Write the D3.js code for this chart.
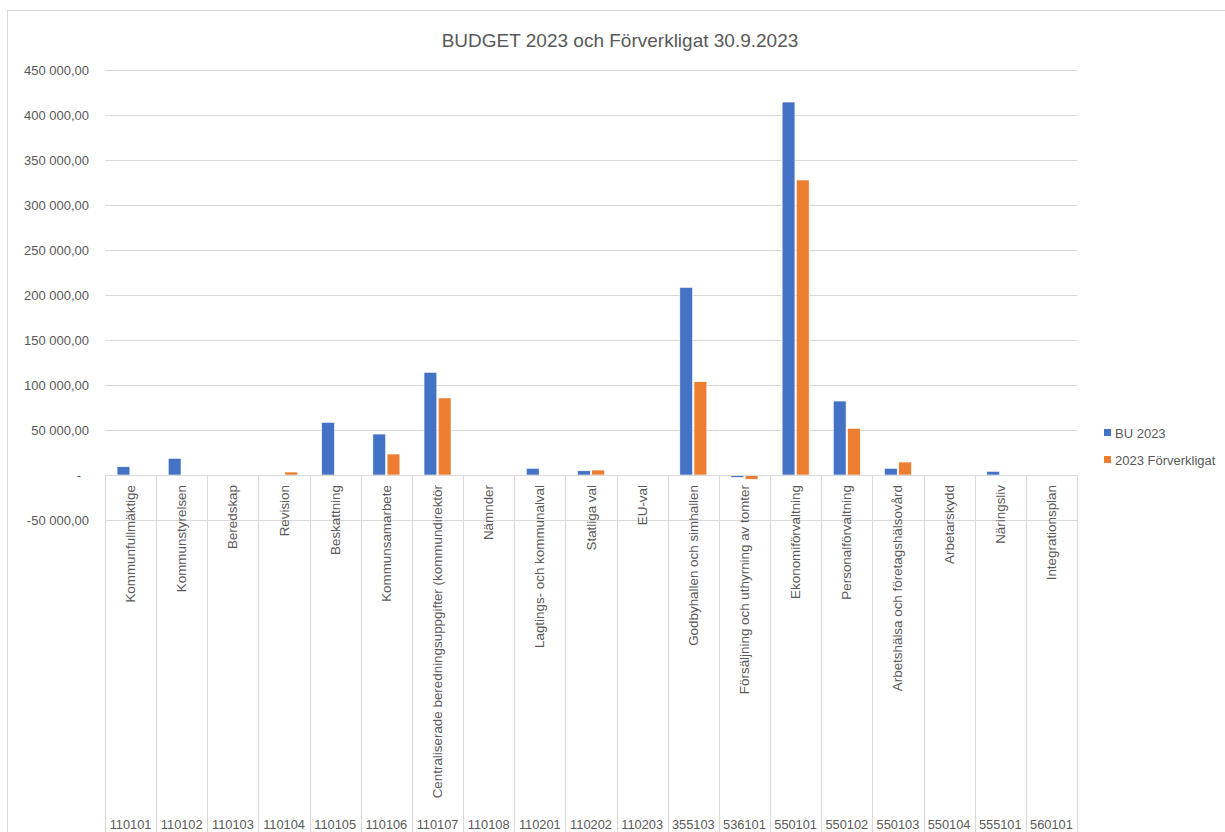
<!DOCTYPE html>
<html>
<head>
<meta charset="utf-8">
<script src="https://cdn.jsdelivr.net/npm/d3@7"></script>
<style>
  html, body { margin: 0; padding: 0; background: #fff; }
  svg { display: block; }
  text { font-family: "Liberation Sans", "DejaVu Sans", sans-serif; fill: #595959; }
</style>
</head>
<body>
<svg id="chart" width="1225" height="832"></svg>
<script>
const title = "BUDGET 2023 och Förverkligat 30.9.2023";
const codes = ["110101","110102","110103","110104","110105","110106","110107","110108","110201","110202","110203","355103","536101","550101","550102","550103","550104","555101","560101"];
const names = ["Kommunfullmäktige","Kommunstyrelsen","Beredskap","Revision","Beskattning","Kommunsamarbete","Centraliserade beredningsuppgifter (kommundirektör","Nämnder","Lagtings- och kommunalval","Statliga val","EU-val","Godbyhallen och simhallen","Försäljning och uthyrning av tomter","Ekonomiförvaltning","Personalförvaltning","Arbetshälsa och företagshälsovård","Arbetarskydd","Näringsliv","Integrationsplan"];
const seriesNames = ["BU 2023", "2023 Förverkligat"];
const bu2023 = [9200, 18500, 0, 0, 58500, 45500, 114100, 0, 7400, 4700, 0, 208500, -2600, 414400, 82200, 7400, 0, 4100, 0];
const forverkligat = [0, 0, 0, 3300, 0, 23300, 85600, 0, 0, 5500, 0, 103700, -4800, 327800, 51900, 14400, 0, 0, 0];
const yTicks = [-50000, 0, 50000, 100000, 150000, 200000, 250000, 300000, 350000, 400000, 450000];
const colors = ["#4472C4", "#ED7D31"];

const svg = d3.select("#chart");

// chart border
svg.append("rect").attr("x", 7.5).attr("y", 10.5).attr("width", 1230).attr("height", 900)
  .attr("fill", "none").attr("stroke", "#d9d9d9").attr("stroke-width", 1);

// title
svg.append("text").attr("x", 620).attr("y", 47).attr("text-anchor", "middle")
  .style("font-size", "19px").text(title);

const left = 105, right = 1077;
const y = d3.scaleLinear().domain([-50000, 450000]).range([520, 70]);
const x0 = d3.scaleBand().domain(codes).range([left, right]).paddingInner(0).paddingOuter(0);
const groupW = 27;
const x1 = d3.scaleBand().domain(seriesNames).range([0, groupW]).paddingInner(0.1);

// gridlines
const grid = svg.append("g");
grid.selectAll("line").data(yTicks).join("line")
  .attr("x1", left).attr("x2", right)
  .attr("y1", d => Math.round(y(d)) + 0.5).attr("y2", d => Math.round(y(d)) + 0.5)
  .attr("stroke", "#d9d9d9").attr("stroke-width", 1);

// y axis labels
const fmt = v => {
  if (v === 0) return "-";
  const s = d3.format(",.2f")(Math.abs(v)).replace(/,/g, " ").replace(".", ",");
  return (v < 0 ? "-" : "") + s;
};
const yAxis = d3.axisLeft(y).tickValues(yTicks).tickFormat(fmt).tickSize(0).tickPadding(0);
const yg = svg.append("g").attr("transform", `translate(89,0)`).call(yAxis);
yg.select(".domain").remove();
yg.selectAll("text").style("font-size", "13px").style("font-family", "Liberation Sans, sans-serif")
  .attr("fill", "#595959").attr("dy", "0.35em")
  .attr("x", d => d === 0 ? -8 : 0);

// bars
const data = codes.map((c, i) => ({ code: c, vals: [bu2023[i], forverkligat[i]] }));
const groups = svg.append("g").selectAll("g").data(data).join("g")
  .attr("transform", d => `translate(${x0(d.code) + (x0.bandwidth() - groupW) / 2},0)`);
groups.selectAll("rect").data(d => d.vals.map((v, j) => ({ v, s: seriesNames[j], j })))
  .join("rect")
  .filter(d => d.v !== 0)
  .attr("x", d => x1(d.s))
  .attr("width", x1.bandwidth())
  .attr("y", d => Math.min(y(d.v), y(0)))
  .attr("height", d => Math.abs(y(d.v) - y(0)))
  .attr("fill", d => colors[d.j])
  .attr("stroke", "#ffffff").attr("stroke-width", 0.6);

// category axis line
svg.append("line").attr("x1", left).attr("x2", right).attr("y1", 475.5).attr("y2", 475.5)
  .attr("stroke", "#d9d9d9");

// separators
const bounds = codes.map(c => x0(c)).concat([right]);
svg.append("g").selectAll("line").data(bounds).join("line")
  .attr("x1", d => Math.round(d) + 0.5).attr("x2", d => Math.round(d) + 0.5)
  .attr("y1", 475).attr("y2", 832)
  .attr("stroke", "#d9d9d9");

// inner (rotated) labels
svg.append("g").selectAll("text").data(names).join("text")
  .attr("transform", (d, i) => `translate(${x0(codes[i]) + x0.bandwidth() / 2 + 4.5},485) rotate(-90)`)
  .attr("text-anchor", "end")
  .style("font-size", "13.4px")
  .text(d => d);

// outer code labels
svg.append("g").selectAll("text").data(codes).join("text")
  .attr("x", d => x0(d) + x0.bandwidth() / 2).attr("y", 829)
  .attr("text-anchor", "middle")
  .style("font-size", "12.8px")
  .text(d => d);

// legend
const lg = svg.append("g");
seriesNames.forEach((s, i) => {
  const ly = 433 + i * 27;
  lg.append("rect").attr("x", 1104).attr("y", ly - 4).attr("width", 7).attr("height", 7).attr("fill", colors[i]);
  lg.append("text").attr("x", 1115).attr("y", ly).attr("dy", "0.35em")
    .style("font-size", "13px").text(s);
});
</script>
</body>
</html>
